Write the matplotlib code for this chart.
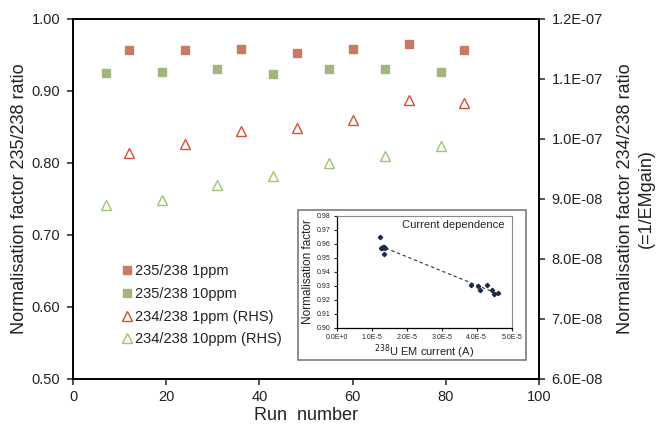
import matplotlib
matplotlib.use("Agg")
import matplotlib.pyplot as plt
from matplotlib.patches import Rectangle
from matplotlib.ticker import FuncFormatter, MultipleLocator
import numpy as np

plt.rcParams["font.family"] = ["Liberation Sans", "DejaVu Sans"]

# main chart data
run_1ppm = [12, 24, 36, 48, 60, 72, 84]
run_10ppm = [7, 19, 31, 43, 55, 67, 79]
r235_1ppm = [0.957, 0.957, 0.958, 0.953, 0.958, 0.965, 0.957]
r235_10ppm = [0.925, 0.927, 0.931, 0.924, 0.931, 0.930, 0.927]
r234_1ppm = [9.77e-8, 9.91e-8, 1.013e-7, 1.018e-7, 1.031e-7, 1.065e-7, 1.060e-7]
r234_10ppm = [8.90e-8, 8.98e-8, 9.23e-8, 9.39e-8, 9.60e-8, 9.72e-8, 9.89e-8]

# inset: 238U EM current for each run (A)
cur_1ppm = [1.30e-5, 1.27e-5, 1.33e-5, 1.36e-5, 1.35e-5, 1.25e-5, 1.38e-5]
cur_10ppm = [4.60e-5, 4.10e-5, 3.85e-5, 4.50e-5, 4.30e-5, 4.05e-5, 4.45e-5]

RED_SQ, GRN_SQ = "#C77B65", "#A2B57E"
RED_TR, GRN_TR = "#D5503A", "#9DC671"
TXT = "#222222"

fig = plt.figure(figsize=(6.57, 4.25), dpi=100)
ax = fig.add_axes([73 / 657, 1 - 379 / 425, 466 / 657, 360 / 425])
ax2 = ax.twinx()

h1, = ax.plot(run_1ppm, r235_1ppm, ls="none", marker="s", ms=6.4,
              mfc=RED_SQ, mec=RED_SQ, label="235/238 1ppm")
h2, = ax.plot(run_10ppm, r235_10ppm, ls="none", marker="s", ms=6.4,
              mfc=GRN_SQ, mec=GRN_SQ, label="235/238 10ppm")
h3, = ax2.plot(run_1ppm, r234_1ppm, ls="none", marker="^", ms=6.8,
               mfc="white", mec=RED_TR, mew=1.0, label="234/238 1ppm (RHS)")
h4, = ax2.plot(run_10ppm, r234_10ppm, ls="none", marker="^", ms=6.8,
               mfc="white", mec=GRN_TR, mew=1.0, label="234/238 10ppm (RHS)")

ax.set_xlim(0, 100)
ax.set_ylim(0.5, 1.0)
ax2.set_ylim(6e-8, 1.2e-7)
ax.xaxis.set_major_locator(MultipleLocator(20))
ax.yaxis.set_major_locator(MultipleLocator(0.1))
ax2.yaxis.set_major_locator(MultipleLocator(1e-8))
ax.yaxis.set_major_formatter(FuncFormatter(lambda v, p: f"{v:.2f}"))
ax2.yaxis.set_major_formatter(FuncFormatter(lambda v, p: f"{v:.1E}"))

for a in (ax, ax2):
    a.tick_params(direction="out", length=4, width=1.1, labelsize=10.5,
                  colors=TXT, pad=5)
    for s in a.spines.values():
        s.set_linewidth(1.2)
ax.tick_params(axis="x", pad=4)

ax.set_xlabel("Run  number", fontsize=13, color=TXT, labelpad=2)
ax.set_ylabel("Normalisation factor 235/238 ratio", fontsize=13,
              color=TXT, labelpad=3)
ax2.set_ylabel("Normalisation factor 234/238 ratio\n(=1/EMgain)", fontsize=13,
               color=TXT, labelpad=10, linespacing=1.3)

ax.legend(handles=[h1, h2, h3, h4], loc="upper left",
          bbox_to_anchor=(0.095, 0.335), frameon=False, fontsize=10.5,
          handlelength=0.6, handletextpad=0.25, labelspacing=0.6,
          borderaxespad=0, labelcolor=TXT)

# inset frame
fr = fig.add_axes([298 / 657, 1 - 360 / 425, 228 / 657, 150 / 425])
fr.axis("off")
fr.add_patch(Rectangle((0, 0), 1, 1, transform=fr.transAxes,
                       facecolor="white", edgecolor="#7a7a7a", lw=1.2,
                       clip_on=False))

ins = fig.add_axes([336.7 / 657, 1 - 328 / 425, 175 / 657, 112 / 425])
cur_all = np.array(cur_1ppm + cur_10ppm)
nf_all = np.array(r235_1ppm + r235_10ppm)
ins.plot(cur_all, nf_all, ls="none", marker="D", ms=2.2,
         mfc="#1c2a4a", mec="#1c2a4a")
k, b = np.polyfit(cur_all, nf_all, 1)
xx = np.array([cur_all.min() + 0.15e-5, cur_all.max()])
ins.plot(xx, k * xx + b, ls=(0, (3, 2.5)), color="#333333", lw=0.8)

ins.set_xlim(0, 5e-5)
ins.set_ylim(0.90, 0.98)
ins.xaxis.set_major_locator(MultipleLocator(1e-5))
ins.yaxis.set_major_locator(MultipleLocator(0.01))


def sci_short(v, p):
    if abs(v) < 1e-12:
        return "0.0E+0"
    e = int(np.floor(np.log10(abs(v))))
    return f"{v / 10 ** e:.1f}E{e:+d}"


ins.xaxis.set_major_formatter(FuncFormatter(sci_short))
ins.yaxis.set_major_formatter(FuncFormatter(lambda v, p: f"{v:.2f}"))
ins.tick_params(direction="out", length=2.5, width=0.8, labelsize=5,
                colors=TXT, pad=2)
for side in ("top", "right"):
    ins.spines[side].set_color("#8a8a8a")
    ins.spines[side].set_linewidth(0.8)
for side in ("left", "bottom"):
    ins.spines[side].set_linewidth(0.9)
ins.set_xlabel(r"$^{238}$U EM current (A)", fontsize=8, color=TXT, labelpad=1)
ins.set_ylabel("Normalisation factor", fontsize=8.5, color=TXT, labelpad=2)
ins.text(0.96, 0.92, "Current dependence", transform=ins.transAxes,
         ha="right", va="center", fontsize=8, color=TXT)

fig.savefig("out.png", dpi=100)
